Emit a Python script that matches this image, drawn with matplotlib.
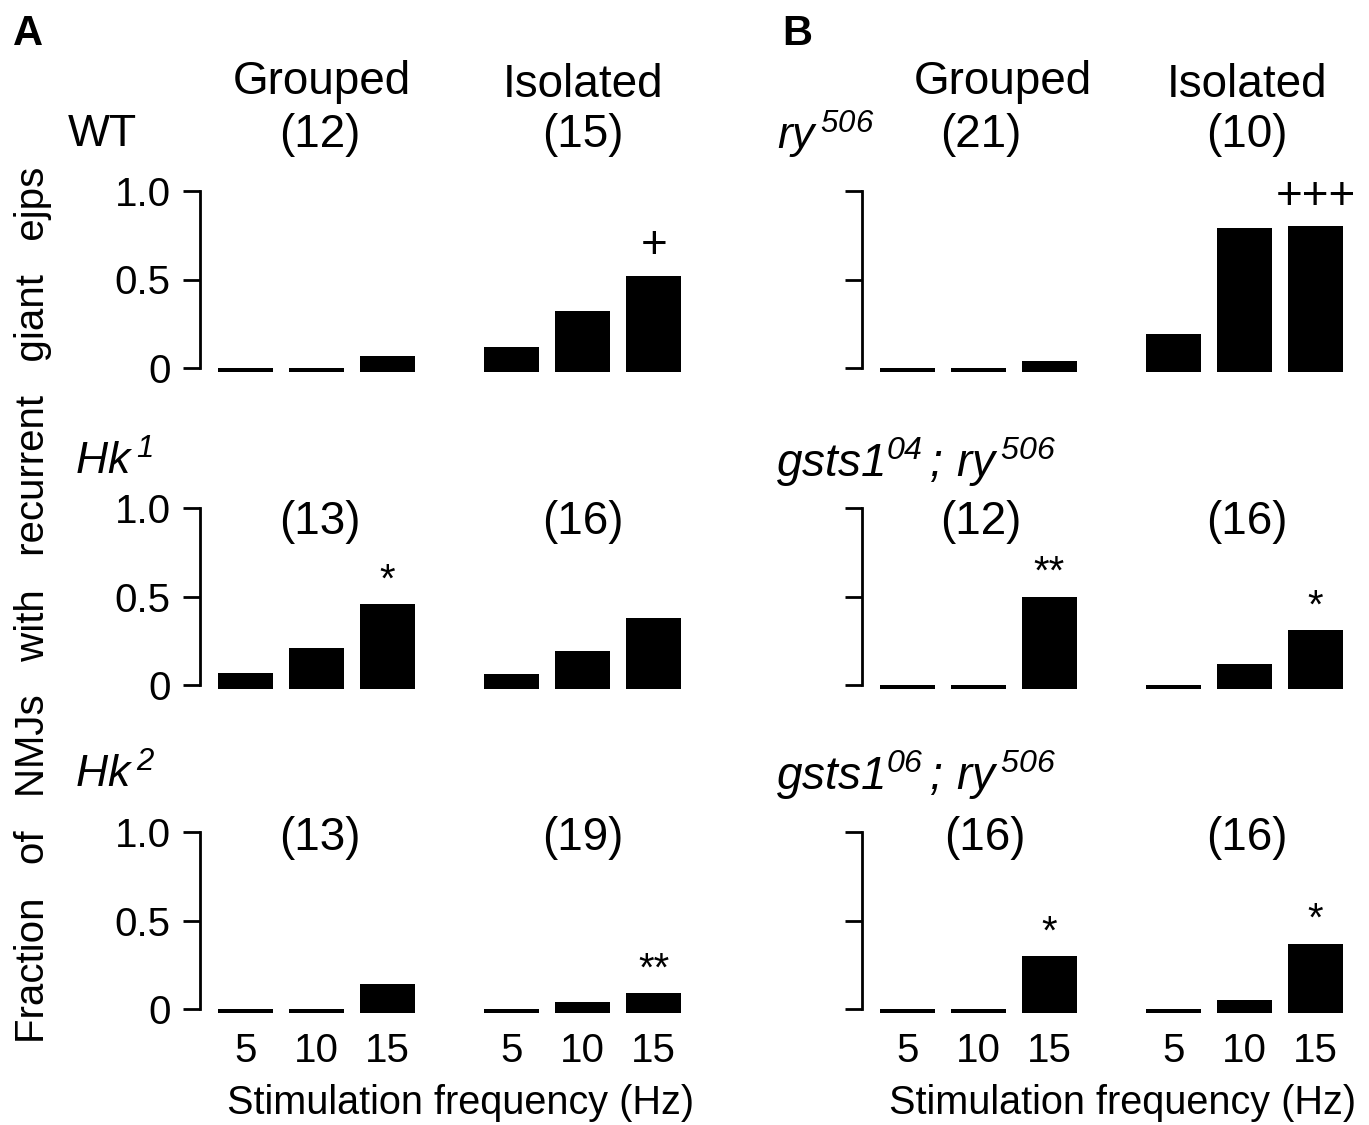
import matplotlib
matplotlib.use("Agg")
import matplotlib.pyplot as plt

plt.rcParams['font.family'] = ['Liberation Sans', 'DejaVu Sans']
plt.rcParams['mathtext.fontset'] = 'custom'
# every mathtext label here is fully italic, digits included
plt.rcParams['mathtext.rm'] = 'Liberation Sans:italic'
plt.rcParams['mathtext.it'] = 'Liberation Sans:italic'

W, H = 1369, 1125

freqs = ["5", "10", "15"]
groups = ["Grouped", "Isolated"]

# panel A: WT, Hk1, Hk2 ; panel B: ry506, gsts1 04, gsts1 06
genotypes_a = ["WT", r"$Hk^{\/1}$", r"$Hk^{\/2}$"]
genotypes_b = [r"$ry^{\,506}$",
               r"$gsts1^{04}\,;\,ry^{\,506}$",
               r"$gsts1^{06}\,;\,ry^{\,506}$"]

vals_a = [[0, 0, 0.07, 0.12, 0.32, 0.52],
          [0.07, 0.21, 0.46, 0.06, 0.19, 0.38],
          [0, 0, 0.14, 0, 0.04, 0.09]]
vals_b = [[0, 0, 0.04, 0.19, 0.79, 0.80],
          [0, 0, 0.50, 0, 0.12, 0.31],
          [0, 0, 0.30, 0, 0.05, 0.37]]

n_a = [["(12)", "(15)"], ["(13)", "(16)"], ["(13)", "(19)"]]
n_b = [["(21)", "(10)"], ["(12)", "(16)"], ["(16)", "(16)"]]

sig_a = [["", "", "", "", "", "+"],
         ["", "", "*", "", "", ""],
         ["", "", "", "", "", "**"]]
sig_b = [["", "", "", "", "", "+++"],
         ["", "", "**", "", "", "*"],
         ["", "", "*", "", "", "*"]]

xpos = [0, 1, 2, 3.75, 4.75, 5.75]

fig = plt.figure(figsize=(W / 100, H / 100), dpi=100)

def fx(x):
    return x / W

def fy(y):
    return 1 - y / H

unit_x = 71.0
unit_y = 177.0
xlo, xhi = -0.64, 6.2
ylo, yhi = -0.05, 1.05
zeros = [368, 685, 1009]
geno_y = [135, 462, 775]
n_y = [135, 522, 838]

panels = [
    dict(spine_x=200, vals=vals_a, ns=n_a, sigs=sig_a, genos=genotypes_a,
         geno_x=[68, 75, 75], head_x=[322, 583], n_x=[[320, 583]] * 3,
         show_labels=True),
    dict(spine_x=862, vals=vals_b, ns=n_b, sigs=sig_b, genos=genotypes_b,
         geno_x=[777, 776, 776], head_x=[1003, 1247],
         n_x=[[981, 1247], [981, 1247], [985, 1247]], show_labels=False),
]

for p in panels:
    spine_x = p["spine_x"]
    for r in range(3):
        z = zeros[r]
        width = (xhi - xlo) * unit_x
        bottom = z - ylo * unit_y
        height = (yhi - ylo) * unit_y
        ax = fig.add_axes([fx(spine_x), fy(bottom), width / W, height / H])
        vals = p["vals"][r]
        ax.bar(xpos, [v + 0.025 for v in vals], bottom=-0.025, width=0.78,
               color="black", edgecolor="none")
        for x, v, s in zip(xpos, vals, p["sigs"][r]):
            if s:
                if "+" in s:
                    ax.text(x, v + 0.1, s, ha="center", va="baseline", fontsize=33)
                else:
                    ax.text(x, v + 0.07, s, ha="center", va="baseline", fontsize=29)
        ax.set_xlim(xlo, xhi)
        ax.set_ylim(ylo, yhi)
        for sp in ["top", "right", "bottom"]:
            ax.spines[sp].set_visible(False)
        ax.spines["left"].set_bounds(0, 1)
        ax.spines["left"].set_linewidth(2)
        ax.set_yticks([0, 0.5, 1.0])
        if p["show_labels"]:
            ax.set_yticklabels(["0", "0.5", "1.0"], fontsize=29)
        else:
            ax.set_yticklabels([])
        ax.tick_params(axis="y", direction="out", length=12, width=2, pad=9)
        if r == 2:
            ax.set_xticks(xpos)
            ax.set_xticklabels(freqs * 2, fontsize=29)
            ax.tick_params(axis="x", length=0, pad=10)
        else:
            ax.set_xticks([])
        for px, lab in zip(p["n_x"][r], p["ns"][r]):
            fig.text(fx(px), fy(n_y[r]), lab, ha="center", va="center", fontsize=33)
        fig.text(fx(p["geno_x"][r]), fy(geno_y[r]), p["genos"][r], ha="left",
                 va="center", fontsize=32 if r == 0 or spine_x == 200 else 33)
    for px, lab, yy in zip(p["head_x"], groups, [82, 85]):
        fig.text(fx(px), fy(yy), lab, ha="center", va="center", fontsize=33)
    cx = spine_x + (3.03 - xlo) * unit_x
    fig.text(fx(cx), fy(1103), "Stimulation frequency (Hz)", ha="center", va="center",
             fontsize=28.5)

fig.text(fx(28), fy(34), "A", ha="center", va="center", fontsize=30, fontweight="bold")
fig.text(fx(797), fy(34), "B", ha="center", va="center", fontsize=30, fontweight="bold")
fig.text(fx(33), fy(605), "Fraction   of   NMJs   with   recurrent   giant   ejps",
         rotation=90, ha="center", va="center", fontsize=29)

fig.savefig("out.png", dpi=100)
